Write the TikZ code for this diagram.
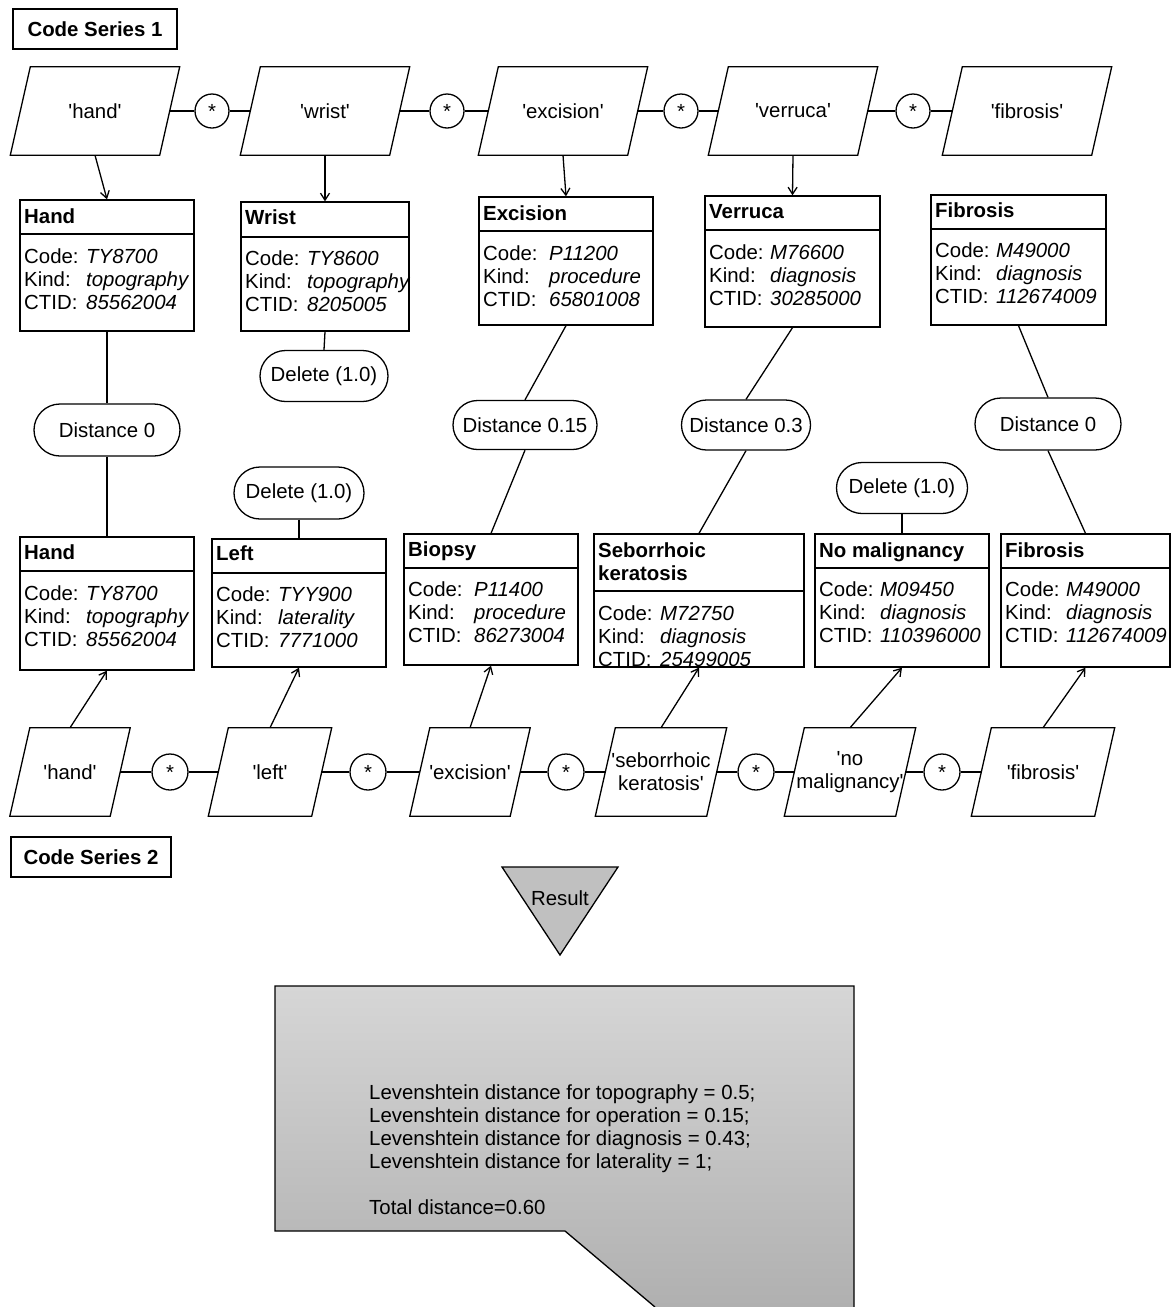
\documentclass[tikz,border=0pt]{standalone}
\usepackage{fontspec}
\setmainfont{Liberation Sans}
\usetikzlibrary{shapes.misc,fit,arrows.meta}
\definecolor{trigray}{RGB}{192,192,192}
\definecolor{calltop}{RGB}{214,214,214}
\definecolor{callbot}{RGB}{176,176,176}
\newcommand\q{\textquotesingle}
\newcommand\kv[3]{\makebox[#1][l]{#2}\textit{#3}}
\newcommand\para[5]{%
  \node[inner sep=0pt, minimum width=#4pt, minimum height=88pt, align=center] (#1) at (#2,#3) {#5};
  \draw[ln] ([xshift=-10pt]#1.south west) -- ([xshift=-10pt]#1.south east) -- ([xshift=10pt]#1.north east) -- ([xshift=10pt]#1.north west) -- cycle;
}
\newcommand\frm[6]{%
  \node[draw, ln, inner sep=0pt, fit={(#2,#3) (#4,#5)}] (#1) {};
  \draw[ln] (#2,#6) -- (#4,#6);
}
\newcommand\hdr[4]{\node[anchor=base west, inner sep=0pt, bld] (#1) at (#2,#3) {#4};}
\newcommand\body[7]{%
  \node[anchor=base west, inner sep=0pt] (#1-c) at (#2,#3) {\kv{#4}{Code:}{#5}};
  \node[anchor=base west, inner sep=0pt] (#1-k) at (#2,#3+23) {\kv{#4}{Kind:}{#6}};
  \node[anchor=base west, inner sep=0pt] (#1-t) at (#2,#3+46) {\kv{#4}{CTID:}{#7}};
}
\begin{document}
\begin{tikzpicture}[x=1pt,y=-1pt,
  every node/.style={font=\fontsize{20.4}{23}\selectfont},
  bld/.style={font=\fontsize{20.4}{23}\selectfont\bfseries},
  ln/.style={line width=1.3pt},
  arr/.style={ln,-{Straight Barb[length=7pt,width=9pt]}},
  pill/.style={rounded rectangle, draw, ln, inner sep=0pt},
  star/.style={circle, draw, ln, inner sep=0pt}]
\useasboundingbox (0,0) rectangle (1173,1307);

% series labels
\node[draw, ln, bld, minimum width=164pt, minimum height=40pt, inner sep=0pt] (cs1) at (95,29) {Code Series 1};
\node[draw, ln, bld, minimum width=160pt, minimum height=40pt, inner sep=0pt] (cs2) at (91,857) {Code Series 2};

% top parallelograms
\para{p1}{95}{111}{149}{\q hand\q}
\para{p2}{325}{111}{149}{\q wrist\q}
\para{p3}{563}{111}{149}{\q excision\q}
\para{p4}{793}{111}{149}{\q verruca\q}
\para{p5}{1027}{111}{149}{\q fibrosis\q}
\node[star, minimum size=34pt] (c1) at (212,111) {*};
\node[star, minimum size=34pt] (c2) at (447,111) {*};
\node[star, minimum size=34pt] (c3) at (681,111) {*};
\node[star, minimum size=34pt] (c4) at (913,111) {*};
\draw[ln] (p1) -- (c1) -- (p2) -- (c2) -- (p3) -- (c3) -- (p4) -- (c4) -- (p5);

% top boxes
\frm{b1}{20}{200}{194}{331}{234}
\hdr{b1h}{24}{223}{Hand}
\body{b1}{24}{263}{62pt}{TY8700}{topography}{85562004}
\frm{b2}{241}{202}{409}{331}{237}
\hdr{b2h}{245}{224}{Wrist}
\body{b2}{245}{265}{62pt}{TY8600}{topography}{8205005}
\frm{b3}{479}{197}{653}{325}{231}
\hdr{b3h}{483}{220}{Excision}
\body{b3}{483}{260}{66pt}{P11200}{procedure}{65801008}
\frm{b4}{705}{196}{880}{327}{230}
\hdr{b4h}{709}{218}{Verruca}
\body{b4}{709}{259}{61pt}{M76600}{diagnosis}{30285000}
\frm{b5}{931}{195}{1106}{325}{229}
\hdr{b5h}{935}{217}{Fibrosis}
\body{b5}{935}{257}{61pt}{M49000}{diagnosis}{112674009}

\draw[arr] (p1.south) -- (b1.north);
\draw[arr] (p2.south) -- (b2.north);
\draw[arr] (p3.south) -- (b3.north);
\draw[arr] (p4.south) -- (b4.north);

% pills
\node[pill, minimum width=146pt, minimum height=52pt] (d1) at (107,430) {Distance 0};
\node[pill, minimum width=128pt, minimum height=51pt] (x1) at (324,376) {Delete (1.0)};
\node[pill, minimum width=144pt, minimum height=49pt] (d2) at (525,425) {Distance 0.15};
\node[pill, minimum width=129pt, minimum height=50pt] (d3) at (746,425) {Distance 0.3};
\node[pill, minimum width=146pt, minimum height=52pt] (d4) at (1048,424) {Distance 0};
\node[pill, minimum width=130pt, minimum height=52pt] (x2) at (299,493) {Delete (1.0)};
\node[pill, minimum width=131pt, minimum height=51pt] (x3) at (902,488) {Delete (1.0)};

% bottom boxes
\frm{e1}{20}{537}{194}{670}{571}
\hdr{e1h}{24}{559}{Hand}
\body{e1}{24}{600}{62pt}{TY8700}{topography}{85562004}
\frm{e2}{212}{539}{386}{667}{573}
\hdr{e2h}{216}{560}{Left}
\body{e2}{216}{601}{62pt}{TYY900}{laterality}{7771000}
\frm{e3}{404}{534}{578}{665}{568}
\hdr{e3h}{408}{556}{Biopsy}
\body{e3}{408}{596}{66pt}{P11400}{procedure}{86273004}
\frm{e4}{594}{534}{804}{667}{591}
\hdr{e4h}{598}{557}{Seborrhoic}
\hdr{e4i}{598}{580}{keratosis}
\body{e4}{598}{620}{62pt}{M72750}{diagnosis}{25499005}
\frm{e5}{815}{534}{989}{667}{568}
\hdr{e5h}{819}{557}{No malignancy}
\body{e5}{819}{596}{61pt}{M09450}{diagnosis}{110396000}
\frm{e6}{1001}{534}{1170}{667}{568}
\hdr{e6h}{1005}{557}{Fibrosis}
\body{e6}{1005}{596}{61pt}{M49000}{diagnosis}{112674009}

% middle connectors
\draw[ln] (b1.south) -- (d1.north);
\draw[ln] (d1.south) -- (e1.north);
\draw[ln] (b2.south) -- (x1.north);
\draw[ln] (b3.south) -- (d2.north);
\draw[ln] (d2.south) -- (e3.north);
\draw[ln] (b4.south) -- (d3.north);
\draw[ln] (d3.south) -- (e4.north);
\draw[ln] (b5.south) -- (d4.north);
\draw[ln] (d4.south) -- (e6.north);
\draw[ln] (x2.south) -- (e2.north);
\draw[ln] (x3.south) -- (e5.north);

% bottom parallelograms
\para{q1}{70}{772}{100}{\q hand\q}
\para{q2}{270}{772}{103}{\q left\q}
\para{q3}{470}{772}{100}{\q excision\q}
\para{q4}{661}{772}{111}{\q seborrhoic\\keratosis\q}
\para{q5}{850}{772}{111}{\q no\\malignancy\q}
\para{q6}{1043}{772}{123}{\q fibrosis\q}
\node[star, minimum size=36pt] (s1) at (170,772) {*};
\node[star, minimum size=36pt] (s2) at (368,772) {*};
\node[star, minimum size=36pt] (s3) at (566,772) {*};
\node[star, minimum size=36pt] (s4) at (756,772) {*};
\node[star, minimum size=36pt] (s5) at (942,772) {*};
\draw[ln] (q1) -- (s1) -- (q2) -- (s2) -- (q3) -- (s3) -- (q4) -- (s4) -- (q5) -- (s5) -- (q6);

\draw[arr] (q1.north) -- (e1.south);
\draw[arr] (q2.north) -- (e2.south);
\draw[arr] (q3.north) -- (e3.south);
\draw[arr] (q4.north) -- (e4.south);
\draw[arr] (q5.north) -- (e5.south);
\draw[arr] (q6.north) -- (e6.south);

% result
\draw[ln, fill=trigray] (502,867) -- (618,867) -- (560,955) -- cycle;
\node (res) at (560,898) {Result};

\shade[top color=calltop, bottom color=callbot] (275,986) -- (854,986) -- (854,1307) -- (655,1307) -- (565,1231) -- (275,1231) -- cycle;
\draw[ln] (655,1307) -- (565,1231) -- (275,1231) -- (275,986) -- (854,986) -- (854,1307);
\node[anchor=base west, inner sep=0pt] (r1) at (369,1099) {Levenshtein distance for topography = 0.5;};
\node[anchor=base west, inner sep=0pt] (r2) at (369,1122) {Levenshtein distance for operation = 0.15;};
\node[anchor=base west, inner sep=0pt] (r3) at (369,1145) {Levenshtein distance for diagnosis = 0.43;};
\node[anchor=base west, inner sep=0pt] (r4) at (369,1168) {Levenshtein distance for laterality = 1;};
\node[anchor=base west, inner sep=0pt] (r5) at (369,1214) {Total distance=0.60};
\end{tikzpicture}
\end{document}
